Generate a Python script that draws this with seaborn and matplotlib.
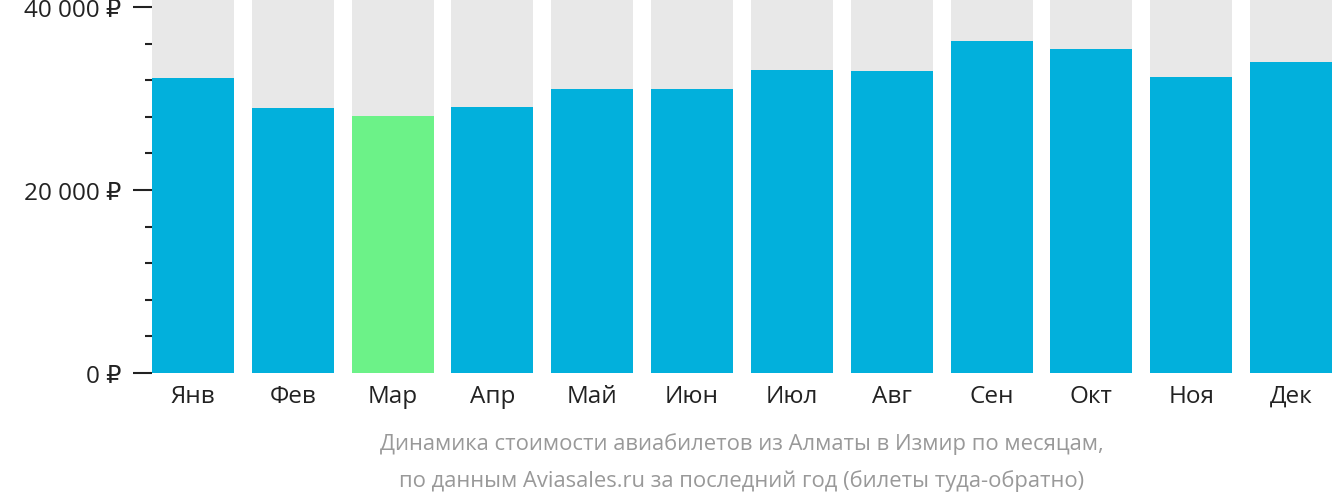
import matplotlib
matplotlib.use("Agg")
import matplotlib.pyplot as plt
import seaborn as sns
import pandas as pd
from matplotlib.ticker import MultipleLocator

months = ["Янв","Фев","Мар","Апр","Май","Июн","Июл","Авг","Сен","Окт","Ноя","Дек"]
prices = [32200, 29000, 28100, 29100, 31000, 31000, 33100, 33000, 36300, 35400, 32300, 34000]
highlight = "Мар"
ymax = 40874

df = pd.DataFrame({"month": months, "price": prices, "bg": [ymax]*len(months)})
colors = ["#6cf288" if m == highlight else "#02b0dc" for m in months]

plt.rcParams["font.family"] = ["Open Sans", "DejaVu Sans"]
fig = plt.figure(figsize=(13.32, 5.02), dpi=100)
ax = fig.add_axes([152/1332, 128/502, 1 - 152/1332, 374/502])
sns.barplot(data=df, x="month", y="bg", color="#e8e8e8", width=0.82, ax=ax, saturation=1)
sns.barplot(data=df, x="month", y="price", hue="month", palette=colors, legend=False,
            width=0.82, ax=ax, saturation=1)
ax.set_xlim(-0.5 + 0.09, 11.5 - 0.09)
ax.set_ylim(0, ymax)
ax.set_xlabel(""); ax.set_ylabel("")
ax.set_yticks([0, 20000, 40000])
ax.set_yticklabels(["0 ₽", "20 000 ₽", "40 000 ₽"])
ax.yaxis.set_minor_locator(MultipleLocator(4000))
ax.tick_params(axis="y", which="major", length=14, width=1.5, colors="#222222", labelsize=17.5, pad=8)
ax.tick_params(axis="y", which="minor", length=5, width=1.5, colors="#222222")
ax.tick_params(axis="x", length=0, labelsize=17.5, labelcolor="#222222", pad=8)
for s in ax.spines.values():
    s.set_visible(False)
fig.text(0.557, 1 - 444/502, "Динамика стоимости авиабилетов из Алматы в Измир по месяцам,",
         ha="center", va="center", fontsize=15.8, color="#999999")
fig.text(0.557, 1 - 481/502, "по данным Aviasales.ru за последний год (билеты туда-обратно)",
         ha="center", va="center", fontsize=15.8, color="#999999")
fig.savefig("out.png", dpi=100)
